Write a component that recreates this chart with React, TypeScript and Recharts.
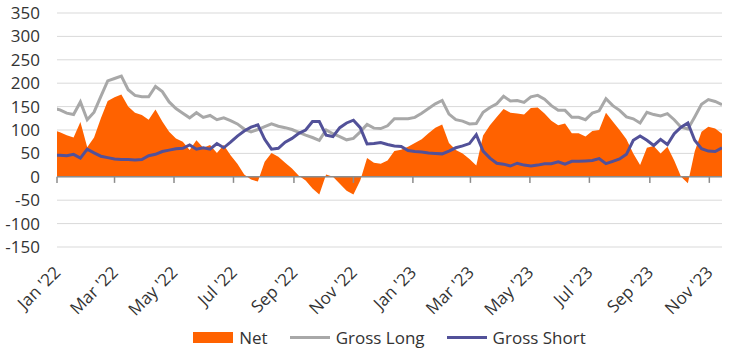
import React from "react"
import {
  ComposedChart,
  Area,
  Line,
  XAxis,
  YAxis,
  CartesianGrid,
  Legend,
  ReferenceLine,
} from "recharts"

// weekly positioning data, first report Tue 28 Dec 2021
const FIRST_WEEK = "2021-12-28"
const AXIS_START = "2022-01-01"
const AXIS_END = "2023-11-14"

const NET = [
  100, 95, 89, 84, 117, 63, 84, 125, 162, 170, 176, 150, 137, 132, 122, 144, 118, 96, 82, 75,
  57, 78, 62, 68, 51, 68, 46, 28, 5, -6, -10, 32, 51, 43, 30, 18, 2, -8, -25, -38,
  5, 0, -15, -30, -38, -8, 40, 30, 28, 35, 55, 58, 64, 72, 80, 93, 105, 112, 72, 57,
  50, 38, 24, 88, 110, 128, 145, 137, 135, 133, 147, 148, 135, 120, 110, 114, 93, 93, 86, 98,
  100, 137, 118, 100, 80, 50, 25, 62, 66, 50, 64, 35, 0, -14, 54, 96, 107, 103, 92,
]

const GROSS_LONG = [
  147, 143, 136, 133, 160, 122, 138, 172, 205, 210, 215, 186, 174, 171, 171, 193, 182, 160, 146, 136,
  126, 137, 127, 131, 122, 126, 120, 113, 102, 96, 101, 107, 113, 108, 105, 101, 95, 89, 84, 78,
  100, 92, 86, 79, 82, 96, 112, 104, 103, 109, 124, 124, 124, 127, 136, 146, 156, 163, 134, 122,
  119, 113, 114, 138, 148, 156, 172, 162, 163, 159, 171, 174, 166, 152, 142, 142, 127, 127, 122, 136,
  141, 167, 152, 142, 128, 124, 115, 138, 133, 130, 135, 122, 106, 102, 128, 155, 165, 161, 154,
]

const GROSS_SHORT = [
  46, 46, 45, 48, 40, 59, 51, 44, 41, 38, 37, 37, 36, 37, 45, 48, 54, 57, 60, 61,
  68, 59, 62, 59, 71, 62, 74, 87, 98, 106, 111, 80, 59, 61, 74, 82, 93, 100, 118, 118,
  89, 86, 105, 115, 121, 105, 70, 71, 73, 69, 66, 65, 56, 54, 53, 51, 50, 49, 55, 62,
  66, 71, 90, 55, 40, 29, 27, 23, 29, 25, 23, 25, 28, 28, 32, 27, 33, 33, 34, 35,
  39, 28, 33, 38, 48, 78, 87, 78, 67, 80, 69, 92, 106, 115, 78, 60, 55, 54, 62,
]

const TICK_DATES = [
  "2022-01-01", "2022-03-01", "2022-05-01", "2022-07-01", "2022-09-01", "2022-11-01",
  "2023-01-01", "2023-03-01", "2023-05-01", "2023-07-01", "2023-09-01", "2023-11-01",
]
const TICK_LABELS = [
  "Jan '22", "Mar '22", "May '22", "Jul '22", "Sep '22", "Nov '22",
  "Jan '23", "Mar '23", "May '23", "Jul '23", "Sep '23", "Nov '23",
]
const Y_TICKS = [-150, -100, -50, 0, 50, 100, 150, 200, 250, 300, 350]

const DAY = 86400000
const toDay = (d: string) => Math.round((Date.parse(d) - Date.parse(AXIS_START)) / DAY)

const data = NET.map((net, i) => ({
  day: toDay(FIRST_WEEK) + i * 7,
  net,
  long: GROSS_LONG[i],
  short: GROSS_SHORT[i],
}))
const tickDays = TICK_DATES.map(toDay)

const FONT = "'Open Sans', sans-serif"
const TEXT = "#333333"
const ORANGE = "#ff6200"
const GREY = "#a8a8a8"
const INDIGO = "#525199"

function XTick({ x, y, payload }: any) {
  const label = TICK_LABELS[tickDays.indexOf(payload.value)]
  const ty = y + 22
  return (
    <text
      x={x}
      y={ty}
      transform={`rotate(-45 ${x} ${ty})`}
      textAnchor="end"
      dominantBaseline="central"
      fontSize={17}
      fontFamily={FONT}
      fill={TEXT}
    >
      {label}
    </text>
  )
}

function LegendBox() {
  const item = { display: "flex", alignItems: "center", marginRight: 22 }
  const label = { marginLeft: 6, fontSize: 17, fontFamily: FONT, color: TEXT }
  return (
    <div style={{ display: "flex", justifyContent: "center", alignItems: "center", height: 34 }}>
      <div style={item}>
        <span style={{ width: 40, height: 11, background: ORANGE }} />
        <span style={label}>Net</span>
      </div>
      <div style={item}>
        <span style={{ width: 40, height: 3, background: GREY }} />
        <span style={label}>Gross Long</span>
      </div>
      <div style={{ ...item, marginRight: 0 }}>
        <span style={{ width: 40, height: 3, background: INDIGO }} />
        <span style={label}>Gross Short</span>
      </div>
    </div>
  )
}

export default function App() {
  return (
    <div style={{ position: "absolute", left: 0, top: 0 }}>
      <ComposedChart
        width={750}
        height={354}
        data={data}
        margin={{ top: 13, right: 28, bottom: 0, left: 0 }}
      >
        <CartesianGrid vertical={false} stroke="#d9d9d9" />
        <XAxis
          type="number"
          dataKey="day"
          domain={[0, toDay(AXIS_END)]}
          ticks={tickDays}
          interval={0}
          allowDataOverflow
          axisLine={false}
          tickLine={false}
          tickSize={0}
          tickMargin={0}
          height={73}
          tick={<XTick />}
        />
        <YAxis
          domain={[-150, 350]}
          ticks={Y_TICKS}
          interval={0}
          allowDataOverflow
          axisLine={false}
          tickLine={false}
          tickSize={0}
          tickMargin={17}
          width={57}
          tick={{ fontSize: 17, fontFamily: FONT, fill: TEXT }}
        />
        <Area
          dataKey="net"
          name="Net"
          type="linear"
          fill={ORANGE}
          fillOpacity={1}
          stroke="none"
          baseValue={0}
          isAnimationActive={false}
        />
        <ReferenceLine y={0} stroke="#8c8c8c" strokeWidth={1.5} />
        {tickDays.map((d) => (
          <ReferenceLine
            key={d}
            segment={[{ x: d, y: 0 }, { x: d, y: -13 }]}
            stroke="#8c8c8c"
            strokeWidth={1.5}
          />
        ))}
        <Line
          dataKey="long"
          name="Gross Long"
          type="linear"
          stroke={GREY}
          strokeWidth={3}
          dot={false}
          isAnimationActive={false}
        />
        <Line
          dataKey="short"
          name="Gross Short"
          type="linear"
          stroke={INDIGO}
          strokeWidth={3}
          dot={false}
          isAnimationActive={false}
        />
        <Legend
          verticalAlign="bottom"
          content={<LegendBox />}
          wrapperStyle={{ left: 57, width: 665, bottom: 0 }}
        />
      </ComposedChart>
    </div>
  )
}
